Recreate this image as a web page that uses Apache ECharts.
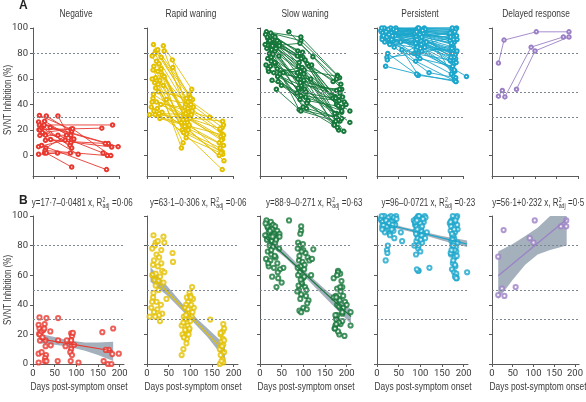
<!DOCTYPE html>
<html><head><meta charset="utf-8">
<script src="https://cdn.jsdelivr.net/npm/echarts@6/dist/echarts.min.js"></script>
<style>html,body{margin:0;padding:0;background:#fff}#c{width:586px;height:402px}</style>
</head><body><div id="c"></div>
<script>
const groupNames = ['Negative','Rapid waning','Slow waning','Persistent','Delayed response'];
const groupColors = ['#e8382f','#e3c000','#16773a','#1ca6cc','#9c80c6'];
const yTicks = [0,20,40,60,80,100];
const xTicks = [0,50,100,150,200];
const refLines = [80,50,30];
const yAxisTitle = 'SVNT Inhibition (%)';
const xAxisTitle = 'Days post-symptom onset';
const eqMain = ['y=17·7–0·0481 x, R','y=63·1–0·306 x, R','y=88·9–0·271 x, R','y=96–0·0721 x, R','y=56·1+0·232 x, R'];
const eqR2 = ['0·06','0·06','0·63','0·23','0·5'];
const fitCoef = [[17.7,-0.0481],[63.1,-0.306],[88.9,-0.271],[96,-0.0721],[56.1,0.232]];
const fitRange = [[15,185],[8,180],[10,210],[10,208],[15,180]];

const negSubjects = [
 [[15,31.5],[88,20.7]],[[31,31],[90,19]],[[58,31],[89,12]],[[13,26.4],[87,16]],
 [[15,24],[185,24]],[[27,27],[95,13]],[[14,20.3],[160,21.5]],[[16,20],[88,10]],
 [[20,22],[86,8]],[[24,23],[90,6]],[[26,24],[175,9.5]],[[16,15.8],[88,16]],
 [[29,16],[105,1]],[[29,12],[168,9.5]],[[41,12.6],[183,6.7]],[[58,16],[163,2]],
 [[13,7],[75,12]],[[30,6],[78,16]],[[28,4],[173,0]],[[13,1],[57,2]],
 [[27,2],[87,2]],[[31,2],[90,-9]],[[40,22],[198,7]],[[20,8],[171,-11]],
 [[22,18],[92,21],[181,0]]
];
const rapidSubjects = [
 [[15,87],[95,42],[175,22]],[[38,86],[104,52]],[[20,82],[92,45],[178,24]],[[25,83],[98,48]],
 [[18,80],[90,40],[170,20]],[[40,82],[88,38],[175,17]],[[60,69],[100,46]],[[59,75],[95,34]],
 [[12,78],[85,32],[172,15]],[[22,74],[88,30],[176,13]],[[28,72],[93,28]],[[16,70],[80,26],[168,10]],
 [[33,68],[97,23]],[[14,67],[90,22],[178,8]],[[25,66],[105,35]],[[35,63],[82,20],[170,6]],
 [[20,61],[86,18]],[[12,60],[92,17],[175,3]],[[30,59],[99,31]],[[18,57],[84,10]],
 [[26,56],[80,6]],[[38,55],[108,38]],[[14,45],[94,26],[176,1]],[[22,42],[146,30]],
 [[32,40],[100,29],[170,21]],[[10,38],[88,23],[179,-4]],[[24,37],[96,20],[168,0]],[[16,35],[85,18],[175,-11]],
 [[35,34],[91,14],[172,2]],[[28,33],[103,32]],[[19,32],[176,27]],[[6,32],[98,24]],
 [[30,29],[178,16]],[[45,44],[102,40]],[[12,42],[95,37]],[[27,50],[106,44]],
 [[33,77],[101,45]],[[40,62],[90,33]],[[20,53],[84,28]],[[15,48],[173,12]]
];
const slowSubjects = [
 [[15,97],[95,93],[180,63]],[[25,96],[95,90],[185,61]],[[67,97],[123,77.5],[190,52]],[[30,94],[88,82],[175,46]],
 [[35,93],[92,80],[182,44]],[[18,92],[100,77],[178,40]],[[28,91],[105,75],[185,38]],[[40,90],[96,76],[190,34]],
 [[20,89],[90,70],[176,31]],[[33,88],[110,72],[180,29]],[[45,88],[98,69],[186,27]],[[12,87],[94,66],[172,24]],
 [[25,86],[102,64],[195,19]],[[38,85],[92,62],[183,20]],[[16,84],[88,60],[209,35]],[[27,83],[97,54],[209,26]],
 [[35,82],[104,52],[178,33]],[[22,80],[90,50],[170,45]],[[30,79],[95,47],[184,43]],[[44,78],[112,43],[192,38]],
 [[18,76],[93,44],[174,26]],[[26,74],[100,38],[180,22]],[[36,72],[91,36],[176,30]],[[14,71],[108,37],[190,29]],
 [[24,70],[87,65],[196,42]],[[40,68],[99,58],[178,51]],[[20,66],[96,55],[185,52]],[[32,65],[114,70],[188,56]],
 [[54,65],[103,67],[180,62]],[[46,64],[118,60],[200,40]],[[28,59],[86,49],[173,24]],[[42,58],[106,46],[190,35]],
 [[50,55],[109,41],[182,28]],[[38,52],[95,35],[176,27]],[[17,93],[176,45]],[[23,90],[182,39]],
 [[31,87],[87,78],[170,58]],[[37,84],[91,73]],[[13,95],[99,81]],[[45,86],[120,71]],
 [[26,77],[102,59],[186,49]],[[34,73],[94,57],[192,46]],[[19,68],[89,53],[174,33]],[[41,62],[107,50]],
 [[29,86],[93,88],[178,60]]
];
const persSubjects = [
 [[12,99],[95,100],[178,99]],[[18,98],[100,99],[172,97]],[[25,97],[90,98],[180,96]],[[30,99],[105,97],[175,94]],
 [[15,96],[92,96],[182,92]],[[22,95],[98,95],[170,90]],[[35,98],[88,94],[176,88]],[[10,97],[94,93],[178,85]],
 [[28,96],[110,100],[185,100]],[[40,95],[96,92],[172,83]],[[20,94],[102,91],[180,81]],[[33,93],[89,90],[174,80]],
 [[14,92],[99,89],[177,78]],[[26,91],[93,87],[183,76]],[[38,90],[107,88],[171,74]],[[16,99],[97,86],[179,72]],
 [[24,98],[91,83],[175,68]],[[31,97],[104,82],[181,66]],[[19,95],[95,78],[173,64]],[[44,100],[112,99],[178,62]],
 [[27,94],[90,74],[184,58]],[[12,93],[100,76],[176,70]],[[36,92],[94,85],[208,62]],[[21,90],[86,80],[170,75]],
 [[29,88],[101,84],[177,82]],[[40,85],[121,65],[183,61]],[[58,83],[96,63]],[[25,80],[95,63],[180,59]],
 [[23,77],[96,80],[174,86]],[[24,75],[103,87],[179,93]],[[20,70],[92,64],[183,58]],[[17,100],[93,99],[177,98]],
 [[32,100],[99,98],[183,99]],[[9,98],[85,97],[168,95]],[[37,97],[108,96],[186,91]],[[13,96],[101,94],[171,93]],
 [[42,94],[96,97],[180,89]],[[23,93],[89,95],[176,87]],[[34,91],[115,89],[182,79]],[[18,89],[94,92],[174,84]],
 [[30,87],[102,90],[179,77]],[[11,100],[97,100],[175,100]],[[39,99],[91,93],[170,96]],[[26,99],[106,98],[185,94]],
 [[15,94],[88,96],[178,91]],[[33,96],[100,95],[173,88]],[[45,98],[92,97],[181,97]],[[21,97],[98,92],[176,80]],
 [[28,95],[93,91],[184,73]],[[36,94],[104,93],[172,77]],[[12,91],[90,88],[180,67]],[[55,89],[111,85],[186,82]]
];
const delaySubjects = [
 [[15,72.5],[28,90.5],[103,97],[179,97]],
 [[15,46.6],[24,51],[30,46],[91,85],[166,93]],
 [[57,52],[100,82],[179,93]]
];
const negBand = [[15,14,20.5],[50,13,18.2],[80,11.8,16],[120,9,14.5],[150,6,14.5],[185,2,15]];
const rapidBand = [[8,55.5,65.5],[50,45.5,51.5],[95,32,36.2],[140,18,24],[180,3,13]];
const slowBand = [[10,83,89.5],[60,71.5,75.5],[100,60,63.6],[150,45,50.5],[210,27,37]];
const persBand = [[10,94,96.8],[60,90.5,92.5],[100,87.8,89.8],[150,83.5,86.5],[208,79,83.5]];
const delayBand = [[15,44,76],[50,57,81],[80,67,86.5],[110,74,92],[140,77,100],[180,80,115]];

const subjects = [negSubjects, rapidSubjects, slowSubjects, persSubjects, delaySubjects];
const bands = [negBand, rapidBand, slowBand, persBand, delayBand];

const FONT = "'Liberation Sans',Arial,sans-serif";
const NUMFONT = "Roboto,'Liberation Sans',sans-serif";
const SX = 0.8;
const TXT = '#3a3a3a';
const AXC = '#5a5a5a';
const lefts = [33, 147, 260, 377, 492];
const titleX = [76, 191, 305, 420, 536];
const eqX = [82, 198, 314, 428, 538];

const grid = [], xAxis = [], yAxis = [], series = [];
const mark = {
  silent: true, symbol: ['none','none'], label: {show: false}, animation: false,
  lineStyle: {type: [2,2], color: '#7d8893', width: 1},
  data: refLines.map(v => ({yAxis: v}))
};
const numLabel = {color: TXT, fontSize: 9.5, fontFamily: NUMFONT, margin: 5, hideOverlap: false};
for (let i = 0; i < 5; i++) {
  grid.push({left: lefts[i], top: 28, width: 86, height: 148});
  xAxis.push({gridIndex: i, type: 'value', min: 0, max: 200, interval: 50,
    axisLine: {show: true, onZero: false, lineStyle: {color: AXC}},
    axisTick: {show: true, length: 3, lineStyle: {color: AXC}},
    axisLabel: {show: false}, splitLine: {show: false}});
  yAxis.push({gridIndex: i, type: 'value', min: -16, max: 100,
    axisLine: {show: true, lineStyle: {color: AXC}},
    axisTick: {show: true, length: 3, customValues: yTicks, lineStyle: {color: AXC}},
    axisLabel: Object.assign({show: i === 0, customValues: yTicks}, numLabel),
    splitLine: {show: false}});
}
for (let i = 0; i < 5; i++) {
  grid.push({left: lefts[i], top: 216, width: 91, height: 148});
  xAxis.push({gridIndex: 5 + i, type: 'value', min: 0, max: 210,
    axisLine: {show: true, onZero: false, lineStyle: {color: AXC}},
    axisTick: {show: true, length: 3, customValues: xTicks, lineStyle: {color: AXC}},
    axisLabel: Object.assign({customValues: xTicks}, numLabel),
    splitLine: {show: false}});
  yAxis.push({gridIndex: 5 + i, type: 'value', min: 0, max: 100, interval: 20,
    axisLine: {show: true, lineStyle: {color: AXC}},
    axisTick: {show: true, length: 3, lineStyle: {color: AXC}},
    axisLabel: Object.assign({show: i === 0}, numLabel),
    splitLine: {show: false}});
}
for (let i = 0; i < 5; i++) {
  const col = groupColors[i];
  series.push({type: 'line', xAxisIndex: i, yAxisIndex: i, data: [], markLine: mark, silent: true});
  subjects[i].forEach(s => {
    series.push({type: 'line', xAxisIndex: i, yAxisIndex: i, data: s, clip: false, silent: true,
      symbol: 'emptyCircle', symbolSize: 3.5, animation: false,
      lineStyle: {color: col, width: 0.9}, itemStyle: {color: col, borderWidth: 0.9}});
  });
  const band = bands[i];
  series.push({type: 'custom', xAxisIndex: 5 + i, yAxisIndex: 5 + i, clip: true, silent: true, z: 1,
    data: [[band[0][0], band[0][1]]],
    renderItem: (params, api) => {
      const top = band.map(b => api.coord([b[0], b[2]]));
      const bot = band.slice().reverse().map(b => api.coord([b[0], b[1]]));
      return {type: 'polygon', shape: {points: top.concat(bot)}, style: {fill: '#8d9cab', opacity: 0.8}};
    }});
  const pts = [];
  subjects[i].forEach(s => s.forEach(p => pts.push(p)));
  series.push({type: 'scatter', xAxisIndex: 5 + i, yAxisIndex: 5 + i, data: pts, silent: true, z: 3,
    symbol: 'emptyCircle', symbolSize: 4.2, itemStyle: {color: col, borderWidth: 1}, markLine: mark});
  const c = fitCoef[i], r = fitRange[i];
  series.push({type: 'line', xAxisIndex: 5 + i, yAxisIndex: 5 + i, silent: true, z: 4, symbol: 'none',
    data: [[r[0], c[0] + c[1] * r[0]], [r[1], c[0] + c[1] * r[1]]],
    lineStyle: {color: col, width: 1.2}});
}

const mctx = document.createElement('canvas').getContext('2d');
function tw(text, size) { mctx.font = size + 'px ' + FONT; return mctx.measureText(text).width; }

const graphic = [
  {type: 'text', x: 19, y: 6, style: {text: 'A', fill: '#222', font: "bold 12px " + FONT, textVerticalAlign: 'middle'}},
  {type: 'text', x: 19, y: 201, style: {text: 'B', fill: '#222', font: "bold 12px " + FONT, textVerticalAlign: 'middle'}},
  {type: 'text', x: 8, y: 100, rotation: Math.PI / 2, scaleX: SX, style: {text: yAxisTitle, fill: TXT,
    font: "10px " + FONT, textAlign: 'center', textVerticalAlign: 'middle'}},
  {type: 'text', x: 8, y: 290, rotation: Math.PI / 2, scaleX: SX, style: {text: yAxisTitle, fill: TXT,
    font: "10px " + FONT, textAlign: 'center', textVerticalAlign: 'middle'}}
];
for (let i = 0; i < 5; i++) {
  graphic.push({type: 'text', x: titleX[i], y: 14, scaleX: SX, style: {text: groupNames[i], fill: TXT,
    font: "10.5px " + FONT, textAlign: 'center', textVerticalAlign: 'middle'}});
  graphic.push({type: 'text', x: lefts[i] + 46, y: 387, scaleX: SX, style: {text: xAxisTitle, fill: TXT,
    font: "10.5px " + FONT, textAlign: 'center', textVerticalAlign: 'middle'}});
  const main = eqMain[i], tail = ' =' + eqR2[i];
  const w1 = tw(main, 10), w2 = tw('adj', 6.5), w3 = tw(tail, 10);
  const total = w1 + w2 + w3;
  graphic.push({type: 'group', x: eqX[i] - total * SX / 2, y: 203, scaleX: SX, children: [
    {type: 'text', x: 0, y: 0, style: {text: main, fill: TXT, font: "10px " + FONT, textVerticalAlign: 'middle'}},
    {type: 'text', x: w1 + 0.3, y: -3.2, style: {text: '2', fill: TXT, font: "6.5px " + FONT, textVerticalAlign: 'middle'}},
    {type: 'text', x: w1 + 0.3, y: 3.0, style: {text: 'adj', fill: TXT, font: "6.5px " + FONT, textVerticalAlign: 'middle'}},
    {type: 'text', x: w1 + w2 + 0.6, y: 0, style: {text: tail, fill: TXT, font: "10px " + FONT, textVerticalAlign: 'middle'}}
  ]});
}
const chart = echarts.init(document.getElementById('c'), null, {renderer: 'canvas'});
chart.setOption({animation: false, backgroundColor: '#fff', grid, xAxis, yAxis, series, graphic});
</script></body></html>
